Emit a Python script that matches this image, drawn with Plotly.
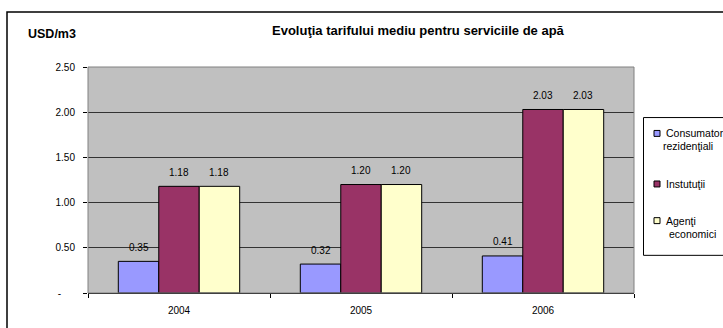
import plotly.graph_objects as go

# Average water tariff by consumer group (USD/m3)
years = ["2004", "2005", "2006"]
series_names = ["Consumatori rezidenţiali", "Instutuţii", "Agenţi economici"]
consumatori = [0.35, 0.32, 0.41]
institutii = [1.18, 1.20, 2.03]
agenti = [1.18, 1.20, 2.03]
colors = ["#9999FF", "#993366", "#FFFFCC"]
y_ticks = [0, 0.5, 1.0, 1.5, 2.0, 2.5]
y_ticklabels = ["-" + "\u00a0" * 5, "0.50", "1.00", "1.50", "2.00", "2.50"]

FONT = "Liberation Sans, Arial, sans-serif"
W, H = 723, 328
ML, MR, MT, MB = 88, 89, 67, 33
PW = W - ML - MR
PH = H - MT - MB


def px_x(px):
    return (px - ML) / PW


def px_y(py):
    return (H - MB - py) / PH


all_series = [consumatori, institutii, agenti]
fig = go.Figure()
for name, vals, col in zip(series_names, all_series, colors):
    fig.add_trace(go.Bar(
        x=years, y=vals, name=name,
        marker=dict(color=col, line=dict(color="black", width=1)),
        showlegend=False,
    ))

# value labels above each bar (x given as category index)
bar_px = PW / 3 * (1 - 0.333) / 3
annotations = []
for i, vals in enumerate(all_series):
    for j, v in enumerate(vals):
        annotations.append(dict(
            x=j, y=v, xref="x", yref="y", text=f"{v:.2f}", showarrow=False,
            xshift=(i - 1) * bar_px, yshift=14, yanchor="middle",
            font=dict(family=FONT, size=10, color="black"),
        ))

annotations += [
    dict(x=px_x(418), y=px_y(30), xref="paper", yref="paper",
         text="<b>Evoluţia tarifului mediu pentru serviciile de apă</b>",
         showarrow=False, xanchor="center", yanchor="middle",
         font=dict(family=FONT, size=13, color="black")),
    dict(x=px_x(26), y=px_y(34), xref="paper", yref="paper",
         text="<b>USD/m3</b>", showarrow=False, xanchor="left", yanchor="middle",
         font=dict(family=FONT, size=12.5, color="black")),
]

# legend: box, swatches and labels
legend_rows = [
    (134, ["Consumatori", "rezidenţiali"], [(664, "left"), (688, "center")]),
    (185, ["Instutuţii"], [(664, "left")]),
    (222, ["Agenţi", "economici"], [(664, "left"), (692, "center")]),
]
shapes = [
    # outer chart frame
    dict(type="rect", xref="paper", yref="paper",
         x0=px_x(7), x1=px_x(800), y0=px_y(400), y1=px_y(11.5),
         line=dict(color="black", width=1.5), fillcolor="rgba(0,0,0,0)", layer="below"),
    # plot area border
    dict(type="rect", xref="paper", yref="paper", x0=0, x1=1, y0=0, y1=1,
         line=dict(color="#808080", width=1), fillcolor="rgba(0,0,0,0)", layer="above"),
    # legend box
    dict(type="rect", xref="paper", yref="paper",
         x0=px_x(643.5), x1=px_x(800), y0=px_y(257), y1=px_y(118),
         line=dict(color="black", width=1), fillcolor="white"),
]
for (ry, lines, pos), col in zip(legend_rows, colors):
    shapes.append(dict(type="rect", xref="paper", yref="paper",
                       x0=px_x(654), x1=px_x(660), y0=px_y(ry + 3), y1=px_y(ry - 3),
                       line=dict(color="black", width=1), fillcolor=col))
    for k, (txt, (lx, anchor)) in enumerate(zip(lines, pos)):
        annotations.append(dict(
            x=px_x(lx), y=px_y(ry + k * 13), xref="paper", yref="paper",
            text=txt, showarrow=False, xanchor=anchor, yanchor="middle",
            font=dict(family=FONT, size=10.5, color="black"),
        ))

fig.update_layout(
    width=W, height=H,
    margin=dict(l=ML, r=MR, t=MT, b=MB, pad=0),
    paper_bgcolor="white", plot_bgcolor="#C0C0C0",
    barmode="group", bargap=0.333, bargroupgap=0,
    font=dict(family=FONT, size=10, color="black"),
    shapes=shapes, annotations=annotations,
    xaxis=dict(
        type="category", range=[-0.5, 2.5], showgrid=False,
        showline=True, linecolor="black", linewidth=1,
        ticks="outside", tickson="boundaries", ticklen=4, tickcolor="black",
        tickfont=dict(family=FONT, size=10, color="black"), ticklabelstandoff=8,
    ),
    yaxis=dict(
        range=[0, 2.5], tickvals=y_ticks, ticktext=y_ticklabels,
        showgrid=True, gridcolor="#333333", gridwidth=1, zeroline=False,
        showline=False, ticks="outside", ticklen=4, tickcolor="black",
        tickfont=dict(family=FONT, size=10, color="black"), ticklabelstandoff=6,
    ),
)

fig.write_html("out.html")
